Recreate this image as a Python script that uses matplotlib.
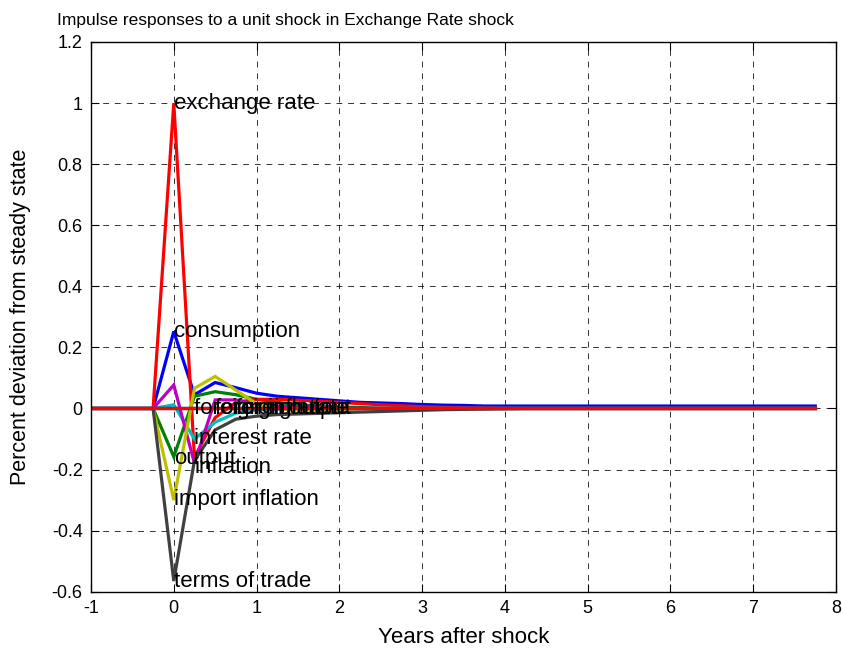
import numpy as np
import matplotlib
matplotlib.use("Agg")
import matplotlib.pyplot as plt
from matplotlib import font_manager

# quarterly horizon in years
years = np.arange(-1, 8.0, 0.25)  # -1 .. 7.75  (36 points)

def tail(vals, n=36):
    v = list(vals)
    return v + [v[-1]] * (n - len(v))

pre = [0, 0, 0, 0]

consumption = tail(pre + [0.252, 0.045, 0.085, 0.068, 0.050, 0.040, 0.035, 0.030, 0.025,
                          0.020, 0.018, 0.016, 0.013, 0.011, 0.010, 0.008])
output = tail(pre + [-0.158, 0.040, 0.055, 0.045, 0.030, 0.020, 0.012, 0.008, 0.005,
                     0.003, 0.001, 0.0])
exchange_rate = tail(pre + [1.0, -0.16, -0.03, 0.020, 0.030, 0.030, 0.027, 0.024, 0.020,
                            0.016, 0.012, 0.009, 0.006, 0.004, 0.002, 0.001, 0.0])
interest_rate = tail(pre + [0.012, -0.100, -0.045, -0.015, -0.005, -0.002, 0.0])
inflation = tail(pre + [0.077, -0.180, 0.028, 0.028, 0.015, 0.008, 0.004, 0.002, 0.0])
import_inflation = tail(pre + [-0.300, 0.066, 0.105, 0.060, 0.015, 0.0, -0.005, -0.005,
                               -0.003, -0.001, 0.0])
terms_of_trade = tail(pre + [-0.565, -0.170, -0.070, -0.035, -0.025, -0.020, -0.018,
                             -0.016, -0.014, -0.012, -0.010, -0.008, -0.006, -0.004,
                             -0.003, -0.002, -0.001, 0.0])
foreign_output = tail([0.0])
foreign_inflation = tail([0.0])
foreign_rate = tail([0.0])

# MATLAB default colour order, cycled
series = [
    ("consumption", consumption, "#0000ff"),
    ("output", output, "#008000"),
    ("exchange rate", exchange_rate, "#ff0000"),
    ("interest rate", interest_rate, "#00bfbf"),
    ("inflation", inflation, "#bf00bf"),
    ("import inflation", import_inflation, "#bfbf00"),
    ("terms of trade", terms_of_trade, "#404040"),
    ("foreign output", foreign_output, "#0000ff"),
    ("foreign inflation", foreign_inflation, "#008000"),
    ("foreign rate", foreign_rate, "#ff0000"),
]

# label anchor positions (x in years, y value)
label_x = {"consumption": 0, "output": 0, "interest rate": 0.25, "inflation": 0.25,
           "import inflation": 0, "terms of trade": 0, "foreign output": 0.5,
           "foreign inflation": 0.25, "foreign rate": 0.75, "exchange rate": 0}
label_y = {"consumption": 0.252, "output": -0.165, "interest rate": -0.097,
           "inflation": -0.193, "import inflation": -0.298, "terms of trade": -0.568,
           "foreign output": 0.0, "foreign inflation": 0.0, "foreign rate": 0.0,
           "exchange rate": 1.0}

title = "Impulse responses to a unit shock in Exchange Rate shock"
xlabel = "Years after shock"
ylabel = "Percent deviation from steady state"
xticks = list(range(-1, 9))
yticks = [-0.6, -0.4, -0.2, 0, 0.2, 0.4, 0.6, 0.8, 1, 1.2]
ytick_labels = ["-0.6", "-0.4", "-0.2", "0", "0.2", "0.4", "0.6", "0.8", "1", "1.2"]

plt.rcParams['font.family'] = ['Liberation Sans', 'DejaVu Sans']
plt.rcParams['axes.unicode_minus'] = False

installed = {f.name for f in font_manager.fontManager.ttflist}
if 'Liberation Sans Narrow' in installed:
    title_font = dict(family=['Liberation Sans Narrow', 'DejaVu Sans'], fontsize=14.5)
else:
    title_font = dict(family=['Liberation Sans', 'DejaVu Sans'], fontsize=12.5)

fig = plt.figure(figsize=(8.43, 6.51), dpi=100)
ax = fig.add_axes([91 / 843, 59.3 / 651, (836 - 91) / 843, (609 - 59.3) / 651])

for name, vals, col in series:
    ax.plot(years, vals, color=col, lw=2.3, solid_joinstyle='miter')

for name, vals, col in series:
    ax.text(label_x[name], label_y[name], name, fontsize=16, ha='left', va='center',
            color='black')

ax.set_xlim(-1, 8)
ax.set_ylim(-0.6, 1.2)
ax.set_xticks(xticks)
ax.set_yticks(yticks)
ax.set_yticklabels(ytick_labels)
ax.tick_params(direction='in', length=6, width=0.8, top=True, right=True,
               labelsize=13, pad=6)
ax.grid(True, color='black', linestyle=(0, (6, 6)), linewidth=0.7, alpha=0.8)
for sp in ax.spines.values():
    sp.set_linewidth(1.0)

ax.set_title(title, loc='left', x=-0.045, pad=12, **title_font)
ax.set_xlabel(xlabel, fontsize=16, labelpad=7)
ax.set_ylabel(ylabel, fontsize=15.5, labelpad=15)

fig.savefig("out.png", dpi=100)
